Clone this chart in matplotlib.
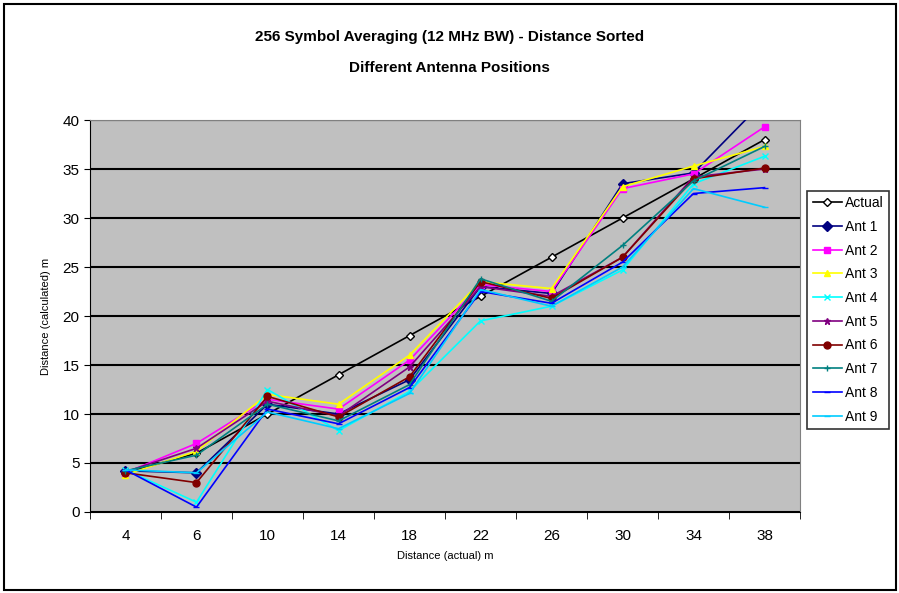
import numpy as np
import matplotlib.pyplot as plt
from matplotlib.patches import Rectangle

plt.rcParams['font.family'] = ['Liberation Sans', 'DejaVu Sans']

# distance categories (actual, m)
cats = ['4', '6', '10', '14', '18', '22', '26', '30', '34', '38']
actual = [4, 6, 10, 14, 18, 22, 26, 30, 34, 38]

ant1 = [4.2, 4.0, 11.0, 10.0, 13.5, 23.0, 22.3, 33.5, 34.6, 42.0]
ant2 = [4.0, 7.0, 11.5, 10.5, 15.5, 23.2, 22.5, 33.0, 34.5, 39.3]
ant3 = [3.8, 6.2, 12.0, 11.0, 16.0, 23.5, 22.8, 33.2, 35.3, 37.3]
ant4 = [4.3, 1.0, 12.5, 8.3, 12.3, 19.5, 21.0, 24.7, 33.5, 36.3]
ant5 = [4.1, 6.5, 11.3, 9.8, 14.8, 23.0, 22.0, 26.0, 34.2, 35.0]
ant6 = [4.0, 3.0, 11.8, 9.7, 13.8, 23.5, 21.8, 26.0, 34.0, 35.1]
ant7 = [4.2, 5.8, 11.0, 9.3, 13.0, 23.8, 21.5, 27.2, 33.8, 37.3]
ant8 = [4.3, 0.5, 10.5, 9.0, 12.7, 22.5, 21.3, 25.5, 32.5, 33.1]
ant9 = [4.3, 4.0, 10.2, 8.5, 12.1, 22.7, 21.0, 25.0, 33.0, 31.1]

series = [ant1, ant2, ant3, ant4, ant5, ant6, ant7, ant8, ant9]
names = ['Ant 1', 'Ant 2', 'Ant 3', 'Ant 4', 'Ant 5', 'Ant 6', 'Ant 7', 'Ant 8', 'Ant 9']
colors = ['#000080', '#FF00FF', '#FFFF00', '#00FFFF', '#800080',
          '#800000', '#008080', '#0000FF', '#00CCFF']
markers = ['D', 's', '^', 'x', '*', 'o', '+', '_', '_']

fig = plt.figure(figsize=(8.99, 5.93), dpi=100)
fig.patches.append(Rectangle((0.004, 0.005), 0.993, 0.989, transform=fig.transFigure,
                             fill=False, edgecolor='black', linewidth=1.5))

ax = fig.add_axes([0.1001, 0.1366, 0.7898, 0.661])
ax.set_facecolor('#C0C0C0')

x = np.arange(len(cats))
ax.plot(x, actual, color='black', linewidth=1.2, marker='D', markersize=4,
        markerfacecolor='white', markeredgecolor='black', label='Actual', zorder=3)
for s, n, c, m in zip(series, names, colors, markers):
    ax.plot(x, s, color=c, linewidth=1.2, marker=m, markersize=5, label=n, zorder=3)

ax.set_xlim(-0.5, 9.5)
ax.set_ylim(0, 40)
ax.set_yticks(np.arange(0, 41, 5))
ax.set_xticks(x)
ax.set_xticklabels(cats)
ax.set_xticks(np.arange(-0.5, 10, 1), minor=True)
ax.tick_params(axis='x', which='major', length=0, pad=12, labelsize=11)
ax.tick_params(axis='x', which='minor', length=5, direction='out')
ax.tick_params(axis='y', length=4, direction='out', labelsize=11)
ax.grid(axis='y', color='black', linewidth=1.5)
ax.set_axisbelow(True)
for side in ['top', 'right']:
    ax.spines[side].set_color('#808080')
ax.spines['left'].set_color('black')
ax.spines['bottom'].set_color('black')

ax.set_xlabel('Distance (actual) m', fontsize=8, labelpad=6)
ax.set_ylabel('Distance (calculated) m', fontsize=8, labelpad=8)

fig.text(0.5, 0.937, '256 Symbol Averaging (12 MHz BW) - Distance Sorted',
         ha='center', va='center', fontsize=11, fontweight='bold')
fig.text(0.5, 0.885, 'Different Antenna Positions',
         ha='center', va='center', fontsize=11, fontweight='bold')

leg = ax.legend(loc='upper left', bbox_to_anchor=(1.01, 0.82), fontsize=10,
                frameon=True, fancybox=False, edgecolor='black',
                handlelength=2.1, handletextpad=0.2, borderpad=0.4,
                labelspacing=0.7, borderaxespad=0)
leg.get_frame().set_linewidth(1.2)

fig.savefig('out.png', dpi=100)
